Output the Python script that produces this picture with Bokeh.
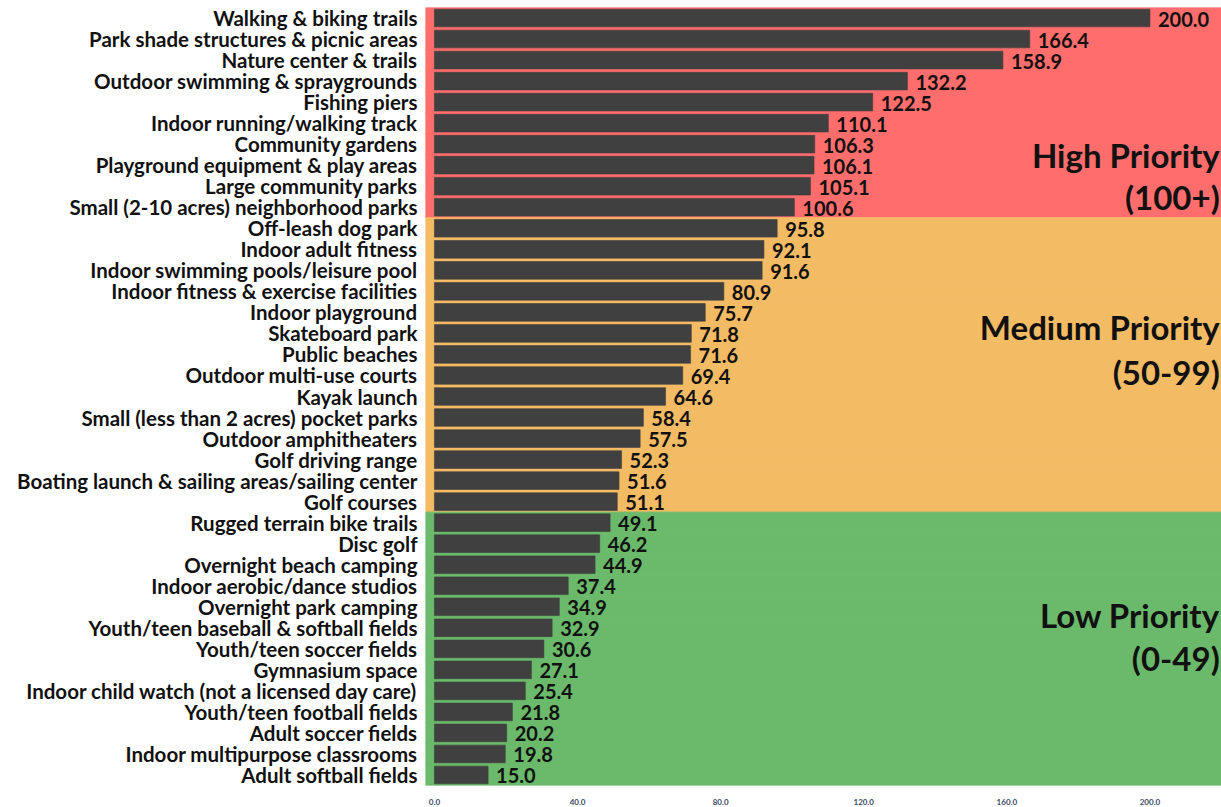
from bokeh.plotting import figure
from bokeh.models import Range1d, FixedTicker, PrintfTickFormatter, ColumnDataSource
from bokeh.core.properties import value
from bokeh.embed import file_html
from bokeh.resources import INLINE

categories = [
    "Walking & biking trails",
    "Park shade structures & picnic areas",
    "Nature center & trails",
    "Outdoor swimming & spraygrounds",
    "Fishing piers",
    "Indoor running/walking track",
    "Community gardens",
    "Playground equipment & play areas",
    "Large community parks",
    "Small (2-10 acres) neighborhood parks",
    "Off-leash dog park",
    "Indoor adult fitness",
    "Indoor swimming pools/leisure pool",
    "Indoor fitness & exercise facilities",
    "Indoor playground",
    "Skateboard park",
    "Public beaches",
    "Outdoor multi-use courts",
    "Kayak launch",
    "Small (less than 2 acres) pocket parks",
    "Outdoor amphitheaters",
    "Golf driving range",
    "Boating launch & sailing areas/sailing center",
    "Golf courses",
    "Rugged terrain bike trails",
    "Disc golf",
    "Overnight beach camping",
    "Indoor aerobic/dance studios",
    "Overnight park camping",
    "Youth/teen baseball & softball fields",
    "Youth/teen soccer fields",
    "Gymnasium space",
    "Indoor child watch (not a licensed day care)",
    "Youth/teen football fields",
    "Adult soccer fields",
    "Indoor multipurpose classrooms",
    "Adult softball fields",
]
scores = [200.0, 166.4, 158.9, 132.2, 122.5, 110.1, 106.3, 106.1, 105.1, 100.6,
          95.8, 92.1, 91.6, 80.9, 75.7, 71.8, 71.6, 69.4, 64.6, 58.4, 57.5, 52.3,
          51.6, 51.1, 49.1, 46.2, 44.9, 37.4, 34.9, 32.9, 30.6, 27.1, 25.4, 21.8,
          20.2, 19.8, 15.0]
x_ticks = [0, 40, 80, 120, 160, 200]
priority_titles = ["High Priority", "(100+)", "Medium Priority", "(50-99)",
                   "Low Priority", "(0-49)"]

RED, ORANGE, GREEN = "#FF6D6D", "#F4BB65", "#6BBA6B"
FONT = "Lato"
XMIN, XMAX = -2.5, 220.0

n = len(categories)
idx = list(range(n))
band_colors = [RED if s >= 100 else (ORANGE if s >= 50 else GREEN) for s in scores]

p = figure(width=1221, height=807, output_backend="svg", toolbar_location=None,
           x_range=Range1d(XMIN, XMAX), y_range=Range1d(n - 0.5, -0.5),
           min_border_left=425, min_border_right=0, min_border_top=7,
           min_border_bottom=19)
p.outline_line_color = None
p.grid.visible = False
p.background_fill_color = "white"
p.border_fill_color = "white"

src = ColumnDataSource(dict(y=idx, score=scores, band=band_colors,
                            label=[f"{s:.1f}" for s in scores]))

# background bands
p.hbar(y="y", left=XMIN, right=XMAX, height=1.0, source=src,
       fill_color="band", line_color="band", line_width=1)
# bars
p.hbar(y="y", left=0, right="score", height=0.84, source=src,
       fill_color="#404040", line_color="#404040", line_alpha=0.6, line_width=1)
# value labels
p.text(x="score", y="y", text="label", source=src, x_offset=8, y_offset=1,
       text_baseline="middle", text_align="left",
       text_font=value(FONT), text_font_style="bold", text_font_size="20px",
       text_color="#111111")

# priority annotations
title_y = [6.5, 8.5, 14.7, 16.85, 28.4, 30.45]
p.text(x=[XMAX - 0.5] * len(priority_titles), y=title_y, text=priority_titles,
       text_align="right", text_baseline="middle",
       text_font=value(FONT), text_font_style="bold", text_font_size="33px",
       text_color="#111111")

# y axis
p.yaxis.ticker = FixedTicker(ticks=idx)
p.yaxis.major_label_overrides = {i: c for i, c in zip(idx, categories)}
p.yaxis.axis_line_color = None
p.yaxis.major_tick_line_color = None
p.yaxis.minor_tick_line_color = None
p.yaxis.major_label_standoff = 2
p.yaxis.major_label_text_font = FONT
p.yaxis.major_label_text_font_style = "bold"
p.yaxis.major_label_text_font_size = "20.5px"
p.yaxis.major_label_text_color = "#111111"

# x axis
p.xaxis.ticker = FixedTicker(ticks=x_ticks)
p.xaxis.formatter = PrintfTickFormatter(format="%.1f")
p.xaxis.axis_line_color = None
p.xaxis.major_tick_line_color = None
p.xaxis.minor_tick_line_color = None
p.xaxis.major_label_standoff = 7
p.xaxis.major_label_text_font = FONT
p.xaxis.major_label_text_font_style = "bold"
p.xaxis.major_label_text_font_size = "8px"
p.xaxis.major_label_text_color = "#3a4a66"

open("out.html", "w").write(file_html(p, INLINE))
